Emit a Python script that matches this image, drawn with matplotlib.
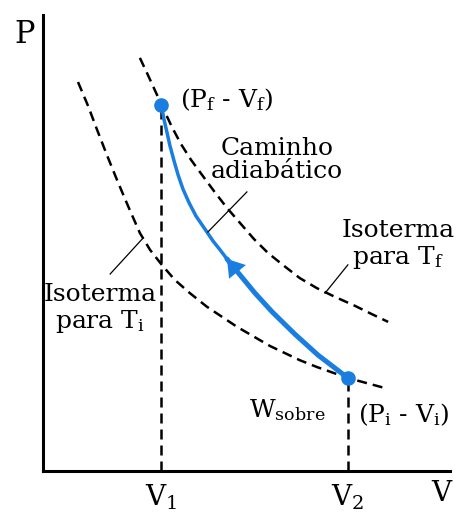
"""P-V diagram: adiabatic compression between two isotherms."""
import matplotlib
matplotlib.use('Agg')
import matplotlib.pyplot as plt

plt.rcParams['font.family'] = 'DejaVu Serif'
plt.rcParams['mathtext.fontset'] = 'dejavuserif'

BLUE = '#1a7ee0'

# volumes / pressures (arbitrary units, 0..10)
v1, pf = 2.91, 8.03
v2, pi = 7.49, 2.04

# isotherm for T_f (upper)
iso_f_v = [2.38, 2.58, 2.78, 2.97, 3.17, 3.39, 3.64, 3.91, 4.20, 4.52, 4.84,
           5.18, 5.53, 5.92, 6.31, 6.73, 7.17, 7.67, 8.08, 8.48]
iso_f_p = [9.06, 8.68, 8.29, 7.92, 7.54, 7.17, 6.82, 6.49, 6.14, 5.77, 5.44,
           5.09, 4.78, 4.50, 4.23, 4.01, 3.82, 3.62, 3.44, 3.27]

# isotherm for T_i (lower)
iso_i_v = [0.86, 1.11, 1.33, 1.57, 1.82, 2.09, 2.38, 2.63, 2.92, 3.24, 3.61,
           4.03, 4.77, 5.58, 6.31, 6.73, 7.49, 8.48]
iso_i_p = [8.53, 8.00, 7.48, 6.93, 6.38, 5.81, 5.22, 4.85, 4.52, 4.19, 3.90,
           3.60, 3.16, 2.74, 2.43, 2.28, 2.04, 1.80]

# adiabatic path, from (Vf, Pf) down to (Vi, Pi)
adi_v = [2.91, 2.97, 3.05, 3.12, 3.22, 3.32, 3.44, 3.59, 3.76, 3.96, 4.18,
         4.35, 4.52, 4.84, 5.21, 5.63, 6.19, 6.76, 7.17, 7.49]
adi_p = [8.03, 7.72, 7.41, 7.13, 6.80, 6.49, 6.18, 5.88, 5.59, 5.33, 5.04,
         4.85, 4.65, 4.30, 3.90, 3.49, 3.00, 2.54, 2.26, 2.04]
arrow_idx = 12

# leader lines for labels
lead_adi = ([4.05, 5.01], [5.24, 6.12])
lead_tf = ([6.93, 7.49], [3.90, 4.52])
lead_ti = ([1.65, 2.46], [4.32, 5.11])

fig = plt.figure(figsize=(4.65, 5.13), dpi=100)
ax = fig.add_axes([43 / 465, 42 / 513, 407 / 465, 456 / 513])
ax.set_xlim(0, 10)
ax.set_ylim(0, 10)

for s in ['top', 'right']:
    ax.spines[s].set_visible(False)
for s in ['left', 'bottom']:
    ax.spines[s].set_linewidth(2.2)

dash = (0, (4, 2.4))
ax.plot(iso_f_v, iso_f_p, color='black', lw=1.8, ls=dash)
ax.plot(iso_i_v, iso_i_p, color='black', lw=1.8, ls=dash)
ax.plot([v1, v1], [0, pf], color='black', lw=1.8, ls=dash)
ax.plot([v2, v2], [0, pi], color='black', lw=1.8, ls=dash)

# thin upper part, thicker lower part
ax.plot(adi_v[:arrow_idx + 1], adi_p[:arrow_idx + 1], color=BLUE, lw=2.5,
        solid_capstyle='round', solid_joinstyle='round')
ax.plot(adi_v[arrow_idx:], adi_p[arrow_idx:], color=BLUE, lw=3.6,
        solid_capstyle='round', solid_joinstyle='round')
ax.annotate('', xy=(adi_v[arrow_idx], adi_p[arrow_idx]),
            xytext=(adi_v[arrow_idx + 1], adi_p[arrow_idx + 1]),
            arrowprops=dict(arrowstyle='-|>,head_length=0.4,head_width=0.26',
                            color=BLUE, lw=0, mutation_scale=30,
                            shrinkA=0, shrinkB=0))
ax.plot([v1, v2], [pf, pi], 'o', color=BLUE, ms=9.5, ls='none')

for lx, ly in [lead_adi, lead_tf, lead_ti]:
    ax.plot(lx, ly, color='black', lw=0.9)

fs = 18
ax.text(3.37, 8.14, r'(P$_\mathregular{f}$ - V$_\mathregular{f}$)',
        fontsize=fs, ha='left', va='center')
ax.text(5.75, 6.82, 'Caminho\nadiabático', fontsize=fs, ha='center',
        va='center', linespacing=1.05)
ax.text(8.72, 4.96, 'Isoterma\npara T$_\\mathregular{f}$', fontsize=fs,
        ha='center', va='center', linespacing=1.1)
ax.text(1.40, 3.55, 'Isoterma\npara T$_\\mathregular{i}$', fontsize=fs,
        ha='center', va='center', linespacing=1.1)
ax.text(6.0, 1.34, r'W$_\mathregular{sobre}$', fontsize=fs, ha='center',
        va='center')
ax.text(7.74, 1.23, r'(P$_\mathregular{i}$ - V$_\mathregular{i}$)',
        fontsize=fs, ha='left', va='center')

ax.set_xticks([v1, v2])
ax.set_xticklabels([r'V$_\mathregular{1}$', r'V$_\mathregular{2}$'],
                   fontsize=20)
ax.tick_params(axis='x', length=0, pad=8)
ax.set_yticks([])
ax.text(9.78, -0.5, 'V', fontsize=20, ha='center', va='center',
        clip_on=False)
ax.text(-0.44, 9.58, 'P', fontsize=22, ha='center', va='center',
        clip_on=False)

fig.savefig('out.png', dpi=100)
